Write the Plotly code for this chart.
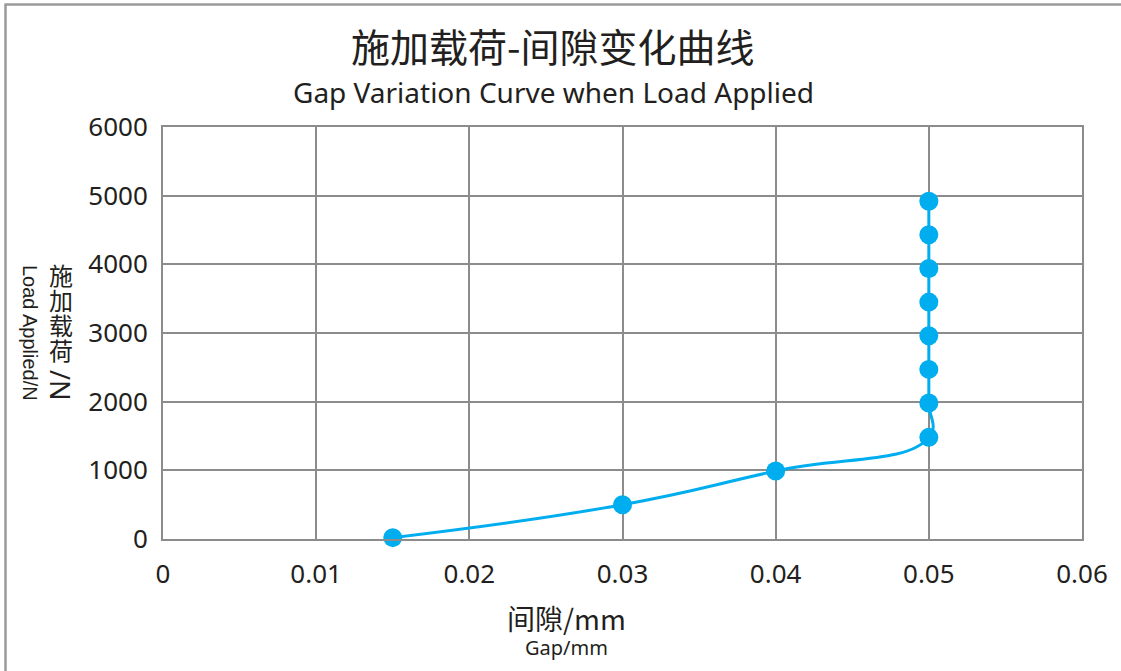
import plotly.graph_objects as go

# Data
gap_mm = [0.015, 0.03, 0.04, 0.05, 0.05, 0.05, 0.05, 0.05, 0.05, 0.05, 0.05]
load_n = [20, 500, 990, 1480, 1980, 2470, 2960, 3450, 3940, 4430, 4920]
x_ticks = [0, 0.01, 0.02, 0.03, 0.04, 0.05, 0.06]
x_ticktext = ["0", "0.01", "0.02", "0.03", "0.04", "0.05", "0.06"]

title_cn = "施加载荷-间隙变化曲线"
title_en = "Gap Variation Curve when Load Applied"
ylabel_cn = "施加载荷"
ylabel_unit = "/N"
ylabel_en = "Load Applied/N"
xlabel_cn = "间隙/mm"
xlabel_en = "Gap/mm"

W, H = 1121, 671
L, R, T, B = 163, 39, 127, 132
pw, ph = W - L - R, H - T - B

def px(x):
    return (x - L) / pw

def py(y):
    return (H - B - y) / ph

FONT = "Noto Sans, Noto Sans CJK SC, sans-serif"
CJK = "Noto Sans CJK SC"
TXT = "#231f20"
BLUE = "#00aeef"
GRID = "#8c8c8c"

fig = go.Figure()
fig.add_trace(go.Scatter(
    x=gap_mm, y=load_n, mode="lines+markers",
    line=dict(color=BLUE, width=3, shape="spline", smoothing=1.3),
    marker=dict(color=BLUE, size=19),
    showlegend=False, cliponaxis=False, hoverinfo="skip",
))

axis_common = dict(
    showgrid=True, gridcolor=GRID, gridwidth=2,
    showline=True, linecolor=GRID, linewidth=2, mirror=True,
    zeroline=False,
    tickfont=dict(family=FONT, size=26, color=TXT),
)

fig.update_xaxes(range=[0, 0.06], tickvals=x_ticks, ticktext=x_ticktext,
                 ticks="outside", ticklen=11, tickcolor="rgba(0,0,0,0)",
                 **axis_common)
fig.update_yaxes(range=[0, 6000], dtick=1000, tick0=0,
                 ticks="outside", ticklen=8, tickcolor="rgba(0,0,0,0)",
                 **axis_common)

ann = []
ann.append(dict(text=title_cn, x=px(553), y=py(45), xref="paper", yref="paper",
                showarrow=False, xanchor="center", yanchor="middle",
                font=dict(family=CJK, size=39, color=TXT)))
ann.append(dict(text=title_en, x=px(553), y=py(92), xref="paper", yref="paper",
                showarrow=False, xanchor="center", yanchor="middle",
                font=dict(family=FONT, size=28, color=TXT)))
for i, ch in enumerate(ylabel_cn):
    ann.append(dict(text=ch, x=px(61), y=py(274 + 25 * i), xref="paper", yref="paper",
                    showarrow=False, xanchor="center", yanchor="middle",
                    font=dict(family=CJK, size=24, color=TXT)))
ann.append(dict(text=ylabel_unit, x=px(61), y=py(385), xref="paper", yref="paper",
                showarrow=False, xanchor="center", yanchor="middle", textangle=90,
                font=dict(family=FONT, size=27, color=TXT)))
ann.append(dict(text=ylabel_en, x=px(30), y=py(333), xref="paper", yref="paper",
                showarrow=False, xanchor="center", yanchor="middle", textangle=90,
                font=dict(family="Liberation Sans, Arial, sans-serif", size=20, color=TXT)))
ann.append(dict(text=xlabel_cn, x=px(566), y=py(618), xref="paper", yref="paper",
                showarrow=False, xanchor="center", yanchor="middle",
                font=dict(family=CJK, size=28, color=TXT)))
ann.append(dict(text=xlabel_en, x=px(566), y=py(647), xref="paper", yref="paper",
                showarrow=False, xanchor="center", yanchor="middle",
                font=dict(family=FONT, size=20, color=TXT)))

shapes = [
    dict(type="line", xref="paper", yref="paper", x0=px(5.5), x1=px(5.5), y0=py(4.5), y1=py(700),
         line=dict(color="#9a9a9a", width=2.5)),
    dict(type="line", xref="paper", yref="paper", x0=px(4.5), x1=px(1150), y0=py(4.5), y1=py(4.5),
         line=dict(color="#9a9a9a", width=2.5)),
]

fig.update_layout(
    width=W, height=H,
    margin=dict(l=L, r=R, t=T, b=B),
    paper_bgcolor="white", plot_bgcolor="white",
    annotations=ann, shapes=shapes,
    font=dict(family=FONT, color=TXT),
    hovermode=False,
)

fig.write_html("out.html", config={"displayModeBar": False},
               post_script="document.body.style.margin='0';")
